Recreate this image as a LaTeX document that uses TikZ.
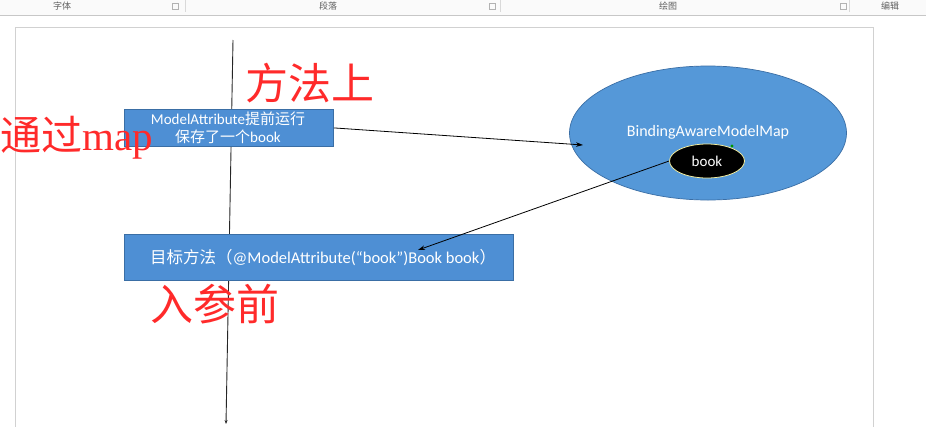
\documentclass[tikz,border=0pt]{standalone}
\usepackage{fontspec}
\setmainfont{Carlito}
\newfontfamily\cjk{Noto Sans CJK SC}
\newfontfamily\redserif{Liberation Serif}
\usetikzlibrary{arrows.meta,shapes.geometric}
\definecolor{boxblue}{HTML}{4E8FD4}
\definecolor{ellblue}{HTML}{5598D8}
\definecolor{edgeblue}{HTML}{3A6EA5}
\definecolor{redtxt}{HTML}{FF2A2A}
\definecolor{tbgrey}{HTML}{606060}
\tikzset{
  bluebox/.style={draw=edgeblue, fill=boxblue, line width=0.8pt, inner sep=0pt},
  whitetxt/.style={text=white, inner sep=0pt},
  redlabel/.style={text=redtxt, inner sep=0pt, font=\fontsize{43}{43}\selectfont},
  conn/.style={draw=black, line width=0.8pt, -{Stealth[length=7pt,width=4.5pt]}},
  tbtext/.style={text=tbgrey, inner sep=0pt, font=\cjk\fontsize{9}{9}\selectfont},
  tbsep/.style={draw=black!15, line width=0.6pt}
}
\begin{document}
\begin{tikzpicture}[x=1pt,y=-1pt]
\useasboundingbox (0,0) rectangle (926,426);
\clip (0,0) rectangle (926,426);
\fill[white] (0,0) rectangle (926,426);
% toolbar
\fill[black!2] (0,0) rectangle (926,15);
\draw[black!22, line width=0.8pt] (0,15) -- (926,15);
\node[tbtext] (tb1) at (62,6.5) {字体};
\node[tbtext] (tb2) at (328,6.5) {段落};
\node[tbtext] (tb3) at (668,6.5) {绘图};
\node[tbtext] (tb4) at (890,6.5) {编辑};
\draw[tbsep] (185,0) -- (185,12);
\draw[tbsep] (500,0) -- (500,12);
\draw[tbsep] (849,0) -- (849,12);
\draw[black!30, line width=0.5pt] (172,3) rectangle (178,9);
\draw[black!30, line width=0.5pt] (489,3) rectangle (495,9);
\draw[black!30, line width=0.5pt] (840,3) rectangle (846,9);
% page
\draw[black!18, line width=1pt, fill=white] (15,27) rectangle (873,440);
% vertical line
\coordinate (vtop) at (233,40);
\coordinate (vbot) at (226,424);
\draw[black!85, line width=0.9pt, -{Stealth[length=4pt,width=3pt]}] (vtop) -- (vbot);
% box 1
\node[bluebox, minimum width=209pt, minimum height=37pt, anchor=north west] (box1) at (124,109) {};
\node[whitetxt, align=center, font=\fontsize{15}{17.5}\selectfont] (box1txt) at (228,128)
  {ModelAttribute{\cjk 提前运行}\\{\cjk 保存了一个}book};
% box 2
\node[bluebox, minimum width=389pt, minimum height=46pt, anchor=north west] (box2) at (124,234) {};
\node[whitetxt, anchor=west, font=\fontsize{16.5}{16.5}\selectfont] (box2txt) at (150,258)
  {{\cjk 目标方法（}@ModelAttribute(“book”)Book book{\cjk ）}};
% ellipse map
\node[ellipse, draw=edgeblue, fill=ellblue, line width=0.7pt, minimum width=277pt, minimum height=134pt] (map) at (708,133) {};
\node[whitetxt, font=\fontsize{16}{16}\selectfont] (maptxt) at (708,132) {BindingAwareModelMap};
\node[ellipse, draw=black!15!yellow!40!white, fill=black, line width=0.8pt, minimum width=75pt, minimum height=34pt, text=white, inner sep=0pt, font=\fontsize{15}{15}\selectfont] (book) at (707,161) {book};
\fill[green!60!black] (732,146) circle (1.6);
% connectors
\coordinate (a1) at (583,145);
\coordinate (a2) at (418,250);
\draw[conn] (box1.east) -- (a1);
\draw[conn] (book.west) -- (a2);
% red annotations
\node[redlabel, anchor=west] (r1) at (245,83) {\cjk 方法上};
\node[redlabel, anchor=west, font=\fontsize{41}{41}\selectfont] (r2) at (0,138) {{\cjk 通过}{\redserif map}};
\node[redlabel, anchor=west] (r3) at (150,304) {\cjk 入参前};
\end{tikzpicture}
\end{document}
